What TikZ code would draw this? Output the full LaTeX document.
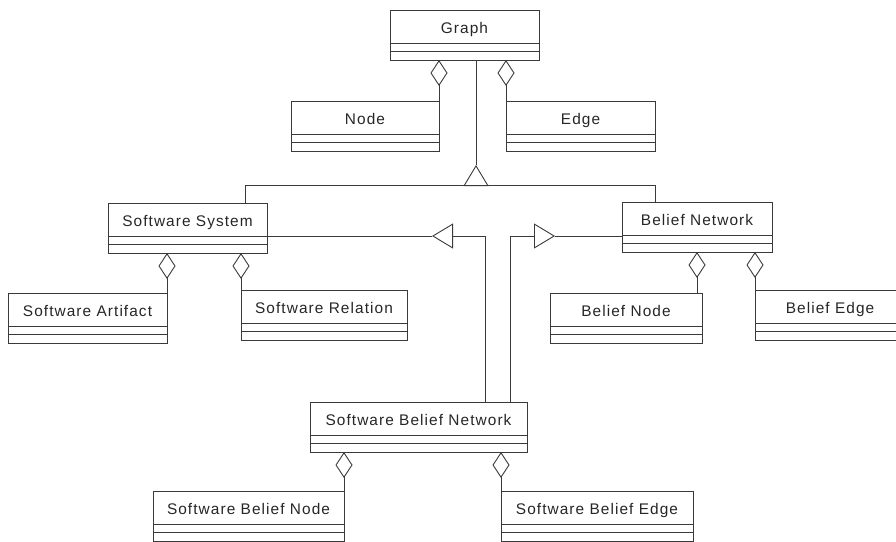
\documentclass[tikz,border=0pt]{standalone}
\usepackage{fontspec}
\setmainfont[LetterSpace=7]{Liberation Sans}
\usetikzlibrary{arrows.meta,calc}
\definecolor{ink}{HTML}{3A3A3A}
\definecolor{txt}{HTML}{262626}
\tikzset{
  cls/.style={draw=ink, line width=0.9pt, rectangle, anchor=north west,
    inner sep=0pt, outer sep=0pt, minimum height=50pt,
    text height=11pt, text depth=15pt, text=txt,
    font=\fontsize{15.4}{18}\selectfont,
    path picture={
      \draw[ink, line width=0.9pt]
        ([yshift=17pt]path picture bounding box.south west) --
        ([yshift=17pt]path picture bounding box.south east);
      \draw[ink, line width=0.9pt]
        ([yshift=8.5pt]path picture bounding box.south west) --
        ([yshift=8.5pt]path picture bounding box.south east);
    }},
  link/.style={draw=ink, line width=0.9pt},
  agg/.style={link, {Diamond[open, length=26pt, width=17pt, line width=0.9pt]}-},
  inh/.style={link, -{Triangle[open, length=21pt, width=25pt, line width=0.9pt]}},
}
\begin{document}
\begin{tikzpicture}[x=1pt, y=-1pt]
\useasboundingbox (0,0) rectangle (896,541);
\clip (0,0) rectangle (896,541);

% classes
\node[cls, minimum width=149pt] (g)    at (390,10)  {Graph};
\node[cls, minimum width=148pt] (n)    at (291,101) {Node};
\node[cls, minimum width=149pt] (e)    at (506,101) {Edge};
\node[cls, minimum width=159pt] (ss)   at (108,203) {Software System};
\node[cls, minimum width=150pt] (bn)   at (622,202) {Belief Network};
\node[cls, minimum width=159pt] (sa)   at (8,293)   {Software Artifact};
\node[cls, minimum width=166pt] (sr)   at (241,290) {Software Relation};
\node[cls, minimum width=152pt] (bnd)  at (550,293) {Belief Node};
\node[cls, minimum width=150pt] (bed)  at (755,290) {Belief Edge};
\node[cls, minimum width=217pt] (sbn)  at (310,402) {Software Belief Network};
\node[cls, minimum width=191pt] (sbnd) at (153,491) {Software Belief Node};
\node[cls, minimum width=192pt] (sbed) at (501,491) {Software Belief Edge};

% junction points
\coordinate (gtip)  at (476,165);
\coordinate (gbar)  at (476,185);
\coordinate (ssx)   at (245,185);
\coordinate (bnx)   at (655,185);
\coordinate (ltip)  at (432,236);
\coordinate (rtip)  at (555,236);
\coordinate (sbnl)  at (485,0);
\coordinate (sbnr)  at (510,0);
\coordinate (bnda)  at (697,0);

% aggregation
\draw[agg] (g.south -| n.north east) -- (n.north east);
\draw[agg] (g.south -| e.north west) -- (e.north west);
\draw[agg] (ss.south -| sa.north east) -- (sa.north east);
\draw[agg] (ss.south -| sr.north west) -- (sr.north west);
\draw[agg] (bn.south -| bnda) -- (bnd.north -| bnda);
\draw[agg] (bn.south -| bed.north west) -- (bed.north west);
\draw[agg] (sbn.south -| sbnd.north east) -- (sbnd.north east);
\draw[agg] (sbn.south -| sbed.north west) -- (sbed.north west);

% generalisation of Graph
\draw[link] (g.south -| gtip) -- (gtip);
\draw[inh] (gbar) -- (gtip);
\draw[link] (ss.north -| ssx) -- (ssx) -- (bnx) -- (bn.north -| bnx);

% generalisation of Software Belief Network
\draw[inh] (sbn.north -| sbnl) |- (ltip);
\draw[link] (ltip) -- (ss.east |- ltip);
\draw[inh] (sbn.north -| sbnr) |- (rtip);
\draw[link] (rtip) -- (bn.west |- rtip);
\end{tikzpicture}
\end{document}
